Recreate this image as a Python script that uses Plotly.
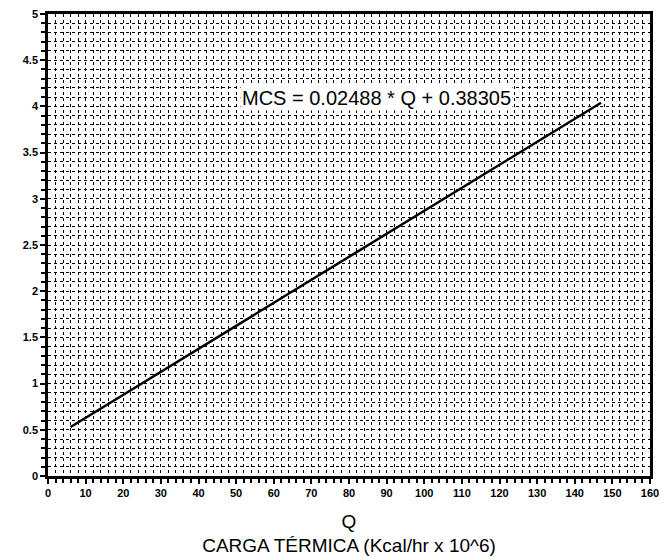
import plotly.graph_objects as go

# Data
q_values = [6, 147]
mcs_values = [0.53, 4.04]
x_ticks = [0, 10, 20, 30, 40, 50, 60, 70, 80, 90, 100, 110, 120, 130, 140, 150, 160]
y_ticks = [0, 0.5, 1, 1.5, 2, 2.5, 3, 3.5, 4, 4.5, 5]
equation_text = "MCS = 0.02488 * Q + 0.38305"

fig = go.Figure()
fig.add_trace(go.Scatter(x=q_values, y=mcs_values, mode="lines",
                         line=dict(color="black", width=2.5), showlegend=False))

fig.add_annotation(x=87.2, y=4.09, text=equation_text, showarrow=False,
                   font=dict(family="Liberation Sans, Arial", size=20, color="black"),
                   bgcolor="white")

axis_common = dict(
    showline=True, linecolor="black", linewidth=2.5, mirror=True,
    ticks="outside", ticklen=5, tickwidth=2, tickcolor="black",
    showgrid=True, gridcolor="black", gridwidth=1, griddash="dot",
    zeroline=False, automargin=False,
    tickfont=dict(family="Liberation Sans, Arial", size=11, color="black"),
)

fig.update_xaxes(range=[0, 160], tickvals=x_ticks, ticktext=[f"<b>{v}</b>" for v in x_ticks],
                 minor=dict(dtick=2, ticks="outside", ticklen=4, tickwidth=1.5, tickcolor="black",
                            showgrid=True, gridcolor="black", griddash="dot", gridwidth=1),
                 title=dict(text="Q<br>CARGA TÉRMICA (Kcal/hr x 10^6)",
                            font=dict(family="Liberation Sans, Arial", size=19, color="black"),
                            standoff=17),
                 **axis_common)
fig.update_yaxes(range=[0, 5], tickvals=y_ticks, ticktext=[f"<b>{v:g}</b>" for v in y_ticks],
                 minor=dict(dtick=0.1, ticks="outside", ticklen=4, tickwidth=1.5, tickcolor="black",
                            showgrid=True, gridcolor="black", griddash="dot", gridwidth=1),
                 **axis_common)

fig.update_layout(width=662, height=557, plot_bgcolor="white", paper_bgcolor="white",
                  margin=dict(l=48, r=12, t=14, b=81))
fig.write_html("out.html", post_script="document.body.style.margin='0';",
               config={"displayModeBar": False})
